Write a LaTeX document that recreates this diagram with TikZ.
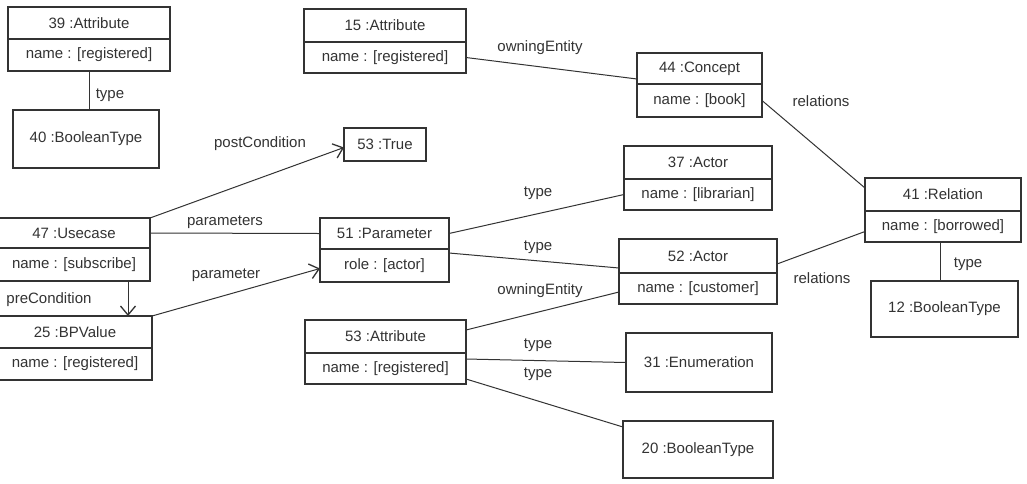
\documentclass[tikz,border=0pt]{standalone}
\usepackage{fontspec}
\setmainfont{Liberation Sans}
\usetikzlibrary{arrows.meta,calc}
\definecolor{ink}{HTML}{333333}
\newcommand\objbox[8]{%
  \node[cmp,minimum width=#4,minimum height=#5,anchor=north west] (#1) at (#2,#3) {#7};
  \node[cmp,minimum width=#4,minimum height=#6,anchor=north west] (#1-a) at (#1.south west) {#8};
}
\newcommand\simplebox[6]{%
  \node[cmp,minimum width=#4,minimum height=#5,anchor=north west] (#1) at (#2,#3) {#6};
}
\begin{document}
\begin{tikzpicture}[x=1pt,y=-1pt,
  every node/.style={font=\fontsize{15}{17}\selectfont, text=ink},
  cmp/.style={draw=ink, line width=1.1pt, inner sep=0pt, outer sep=0pt},
  conn/.style={draw=ink, line width=1pt},
  arr/.style={conn, -{Straight Barb[length=9pt,width=15pt,line width=1.3pt]}},
  lbl/.style={inner sep=0pt}]
\useasboundingbox (0,0) rectangle (1027,483);
\fill[white] (0,0) rectangle (1027,483);
% boxes
\objbox{a39}{8}{7}{162pt}{32pt}{32pt}{39 :Attribute}{name : [registered]}
\simplebox{b40}{13}{110}{146pt}{58pt}{40 :BooleanType}
\objbox{a15}{304}{9}{162pt}{33pt}{31pt}{15 :Attribute}{name : [registered]}
\objbox{c44}{637}{53}{125pt}{31pt}{33pt}{44 :Concept}{name : [book]}
\simplebox{t53}{344}{128}{82pt}{33pt}{53 :True}
\objbox{u47}{-2}{218}{152pt}{30pt}{33pt}{47 :Usecase}{name : [subscribe]}
\objbox{p51}{320}{218}{129pt}{31pt}{33pt}{51 :Parameter}{role : [actor]}
\objbox{v25}{-2}{316}{154pt}{32pt}{32pt}{25 :BPValue}{name : [registered]}
\objbox{a53}{305}{320}{161pt}{33pt}{31pt}{53 :Attribute}{name : [registered]}
\simplebox{e31}{626}{333}{146pt}{59pt}{31 :Enumeration}
\simplebox{b20}{623}{421}{150pt}{57pt}{20 :BooleanType}
\objbox{r37}{624}{146}{148pt}{33pt}{31pt}{37 :Actor}{name : [librarian]}
\objbox{r52}{619}{239}{158pt}{34pt}{31pt}{52 :Actor}{name : [customer]}
\objbox{r41}{865}{178}{156pt}{33pt}{31pt}{41 :Relation}{name : [borrowed]}
\simplebox{b12}{871}{281}{147pt}{56pt}{12 :BooleanType}
% connectors
\draw[conn] (a39-a.south) -- (a39-a.south |- b40.north);
\draw[conn] (a15-a.east) -- ([yshift=-10.5pt]c44.west);
\draw[arr] (u47.north east) -- ([yshift=-3pt]t53.west);
\draw[conn] (u47.east) -- (p51.west);
\draw[arr] (v25.north east) -- ([yshift=-3pt]p51-a.west);
\draw[arr] ([xshift=54pt]u47-a.south) -- ([xshift=53pt]v25.north);
\draw[conn] (p51.east) -- (r37-a.west);
\draw[conn] ([yshift=12.5pt]p51-a.east) -- ([yshift=5pt]r52.south west);
\draw[conn] ([yshift=6.5pt]a53.east) -- ([yshift=-3.5pt]r52-a.west);
\draw[conn] ([yshift=9.5pt]a53-a.east) -- (e31.west);
\draw[conn] ([yshift=-10.5pt]a53-a.east) -- ([yshift=-6pt]b20.north west);
\draw[conn] ([yshift=-8pt]r52.east) -- ([yshift=-5pt]r41-a.west);
\draw[conn] (c44-a.east) -- ([yshift=6.5pt]r41.west);
\draw[conn] ([xshift=-3pt]r41-a.south) -- ([xshift=-3pt]r41-a.south |- b12.north);
% labels
\node[lbl] (l1) at (110,95) {type};
\node[lbl] (l2) at (540,48) {owningEntity};
\node[lbl] (l3) at (260,144) {postCondition};
\node[lbl] (l4) at (225,222) {parameters};
\node[lbl] (l5) at (226,275) {parameter};
\node[lbl] (l6) at (49,300) {preCondition};
\node[lbl] (l7) at (538,193) {type};
\node[lbl] (l8) at (538,247) {type};
\node[lbl] (l9) at (540,291) {owningEntity};
\node[lbl] (l10) at (538,345) {type};
\node[lbl] (l11) at (538,374) {type};
\node[lbl] (l12) at (822,278) {relations};
\node[lbl] (l13) at (821,101) {relations};
\node[lbl] (l14) at (968,264) {type};
\end{tikzpicture}
\end{document}
